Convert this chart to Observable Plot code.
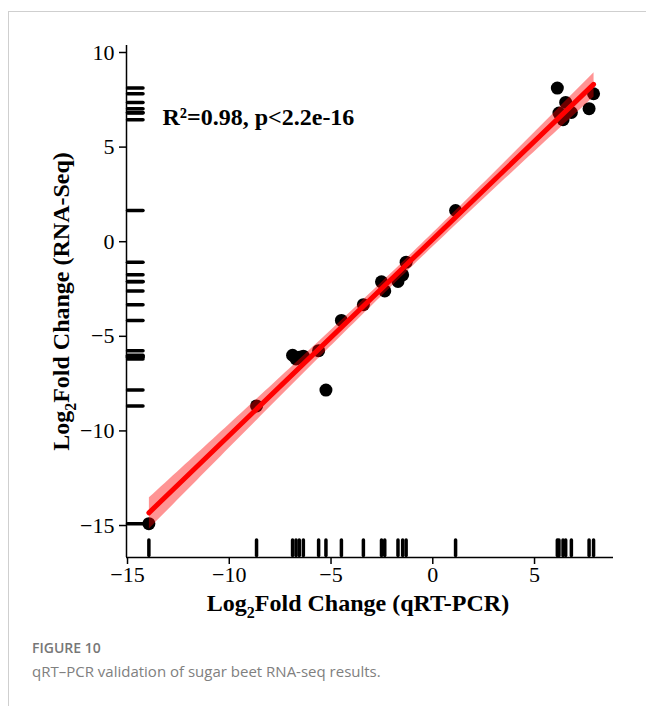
<!DOCTYPE html>
<html><head><meta charset="utf-8">
<script src="https://cdn.jsdelivr.net/npm/d3@7"></script>
<script src="https://cdn.jsdelivr.net/npm/@observablehq/plot@0.6"></script>
<style>
body{margin:0;background:#fff;width:646px;height:706px;position:relative;overflow:hidden}
#frame{position:absolute;left:8px;top:11px;right:0;bottom:0;border-top:1px solid #cfcfcf;border-left:1px solid #cfcfcf}
#chart{position:absolute;left:0;top:0}
#fig{position:absolute;left:32px;top:638px;font:600 14px "Open Sans";color:#777}
#cap{position:absolute;left:32px;top:661px;font:15px "Open Sans";color:#808080}
</style></head><body>
<div id="frame"></div><div id="chart"></div>
<div id="fig">FIGURE 10</div><div id="cap">qRT–PCR validation of sugar beet RNA-seq results.</div>
<script>
const qpcr   = [-13.95, -8.66, -6.89, -6.72, -6.56, -6.36, -5.61, -5.25, -4.49, -3.41, -2.52, -2.36, -1.71, -1.48, -1.31, 1.12, 6.12, 6.20, 6.40, 6.53, 6.81, 7.68, 7.90];
const rnaseq = [-14.9, -8.68, -6.0, -6.2, -6.1, -6.05, -5.76, -7.84, -4.16, -3.33, -2.12, -2.6, -2.1, -1.75, -1.08, 1.65, 8.12, 6.8, 6.45, 7.36, 6.83, 7.03, 7.82];
const xTicks = [-15, -10, -5, 0, 5];
const yTicks = [-15, -10, -5, 0, 5, 10];
const xDomain = [-15.05, 8.88];
const yDomain = [-16.69, 10.37];
const annotation = "R²=0.98, p<2.2e-16";
const xLabel = ["Log", "2", "Fold Change (qRT-PCR)"];
const yLabel = ["Log", "2", "Fold Change (RNA-Seq)"];

const data = qpcr.map((q, i) => ({q, r: rnaseq[i]}));
const W = 646, H = 630, mL = 126, mR = 33, mT = 45, mB = 73;
const fW = W - mL - mR, fH = H - mT - mB;
const fmt = d => d < 0 ? "\u2212" + Math.abs(d) : String(d);
const serif = "'Liberation Serif', 'Times New Roman', serif";

const plot = Plot.plot({
  width: W, height: H,
  marginLeft: mL, marginRight: mR, marginTop: mT, marginBottom: mB,
  style: {fontFamily: serif, color: "#000", background: "transparent"},
  x: {domain: xDomain},
  y: {domain: yDomain},
  marks: [
    Plot.axisX({ticks: xTicks, tickFormat: fmt, tickSize: 7, tickPadding: 2, fontSize: 22, label: null, strokeWidth: 1.5}),
    Plot.axisY({ticks: yTicks, tickFormat: fmt, tickSize: 7, tickPadding: 5, fontSize: 22, label: null, strokeWidth: 1.5}),
    Plot.ruleX([xDomain[0]], {stroke: "#000", strokeWidth: 1.5}),
    Plot.ruleY([yDomain[0]], {stroke: "#000", strokeWidth: 1.5}),
    Plot.tickX(data, {x: "q", insetTop: fH - 17, insetBottom: 1.5, stroke: "#000", strokeWidth: 3.5, strokeLinecap: "round"}),
    Plot.tickY(data, {y: "r", insetRight: fW - 17, insetLeft: 1.5, stroke: "#000", strokeWidth: 3.5, strokeLinecap: "round"}),
    Plot.dot(data, {x: "q", y: "r", r: 6.5, fill: "#000", stroke: "none"}),
    Plot.linearRegressionY(data, {x: "q", y: "r", stroke: "#ff0000", strokeWidth: 5, fill: "#ff0000", fillOpacity: 0.42, ci: 0.95}),
    Plot.text([annotation], {frameAnchor: "top-left", dx: 36, dy: 62, textAnchor: "start", fontSize: 24, fontWeight: "bold", fill: "#000"}),
    Plot.text([xLabel.join("")], {frameAnchor: "bottom", dx: -12, dy: 53, textAnchor: "middle", fontSize: 24, fontWeight: "bold", fill: "#000"}),
    Plot.text([yLabel.join("")], {frameAnchor: "left", dx: -65, rotate: -90, textAnchor: "middle", fontSize: 24, fontWeight: "bold", fill: "#000"})
  ]
});
document.getElementById("chart").appendChild(plot);

// subscript "2" in axis labels
const ns = "http://www.w3.org/2000/svg";
for (const lab of [xLabel, yLabel]) {
  const full = lab.join("");
  plot.querySelectorAll("text").forEach(t => {
    if (t.textContent === full) {
      t.textContent = "";
      const a = document.createElementNS(ns, "tspan"); a.textContent = lab[0];
      const b = document.createElementNS(ns, "tspan"); b.textContent = lab[1];
      b.setAttribute("dy", "7"); b.setAttribute("font-size", "16");
      const c = document.createElementNS(ns, "tspan"); c.textContent = lab[2];
      c.setAttribute("dy", "-7");
      t.append(a, b, c);
    }
  });
}
</script>
</body></html>
